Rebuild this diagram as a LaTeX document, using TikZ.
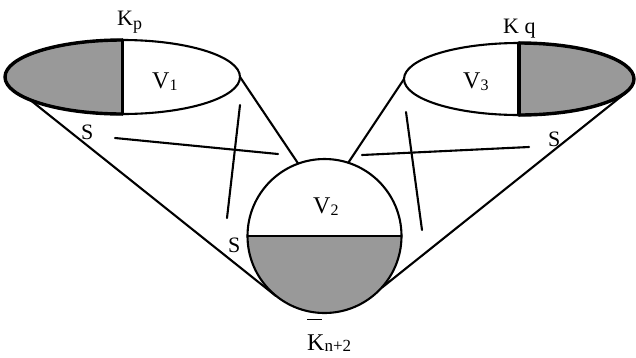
\documentclass[tikz,border=0pt]{standalone}
\usepackage{fontspec}
\setmainfont{Liberation Serif}
\usetikzlibrary{calc}
\newcommand\lowsub[3]{\raisebox{-#1}{\fontsize{#2}{#2}\selectfont #3}}
\begin{document}
\begin{tikzpicture}[x=1pt,y=-1pt,line join=round,line cap=round,
  ln/.style={line width=2.1pt},
  thickln/.style={line width=3.4pt},
  shadefill/.style={fill=black!40},
  klbl/.style={inner sep=0pt,anchor=base west,font=\fontsize{22}{26}\selectfont},
  vlbl/.style={inner sep=0pt,anchor=base west,font=\fontsize{24}{28}\selectfont},
  slbl/.style={inner sep=0pt,anchor=base west,font=\fontsize{22}{26}\selectfont}]
\useasboundingbox (0,0) rectangle (636,357);
% centres
\coordinate (e1) at (122.5,77);
\coordinate (e3) at (519,79);
\node[circle,minimum size=154pt,inner sep=0pt] (c) at (324.5,236) {};
% connector end points
\coordinate (lo) at (30,99.8);
\coordinate (li) at (240,77);
\coordinate (ri) at (404,79);
\coordinate (ro) at (628,91);
\coordinate (a1) at (115,138); \coordinate (a2) at (278,154);
\coordinate (b1) at (240,105); \coordinate (b2) at (227,218);
\coordinate (c1) at (362,155); \coordinate (c2) at (529,147);
\coordinate (d1) at (406,112); \coordinate (d2) at (422,230);
% left ellipse
\begin{scope}
  \clip (0,0) rectangle (123,200);
  \fill[shadefill] (e1) ellipse [x radius=117.5pt,y radius=37pt];
  \draw[thickln] (e1) ellipse [x radius=117.5pt,y radius=37pt];
\end{scope}
\draw[ln] (e1) ellipse [x radius=117.5pt,y radius=37pt];
\draw[thickln] ($(e1)+(0,-37)$) -- ($(e1)+(0,37)$);
% right ellipse
\begin{scope}
  \clip (519,0) rectangle (636,200);
  \fill[shadefill] (e3) ellipse [x radius=115pt,y radius=36pt];
  \draw[thickln] (e3) ellipse [x radius=115pt,y radius=36pt];
\end{scope}
\draw[ln] (e3) ellipse [x radius=115pt,y radius=36pt];
\draw[thickln] ($(e3)+(0,-36)$) -- ($(e3)+(0,36)$);
% circle
\begin{scope}
  \clip (c.west) rectangle ($(c.east)+(0,100)$);
  \fill[shadefill] (c.center) circle [radius=77pt];
\end{scope}
\draw[ln] (c.center) circle [radius=77pt];
\draw[ln] (c.west) -- (c.east);
% cone lines
\draw[ln] (lo) -- (c.231.6);
\draw[ln] (li) -- (c.110);
\draw[ln] (ri) -- (c.72);
\draw[ln] (ro) -- (c.318);
% crossing lines
\draw[ln] (a1) -- (a2);
\draw[ln] (b1) -- (b2);
\draw[ln] (c1) -- (c2);
\draw[ln] (d1) -- (d2);
% labels
\node[klbl] (kp) at (117,25) {K\lowsub{4pt}{18}{p}};
\node[klbl] (kq) at (503,33) {K q};
\node[vlbl] (v1) at (152,88) {V\lowsub{2pt}{16}{1}};
\node[vlbl] (v2) at (313,213) {V\lowsub{2pt}{16}{2}};
\node[vlbl] (v3) at (463,88) {V\lowsub{2pt}{16}{3}};
\node[slbl] (s1) at (81,139) {S};
\node[slbl] (s2) at (548,146) {S};
\node[slbl] (s3) at (228,252) {S};
\node[klbl,font=\fontsize{24}{28}\selectfont] (kn) at (307,350)
  {\rlap{\raisebox{30pt}{\rule{15pt}{1.4pt}}}K\lowsub{1.5pt}{17}{n+2}};
\end{tikzpicture}
\end{document}
